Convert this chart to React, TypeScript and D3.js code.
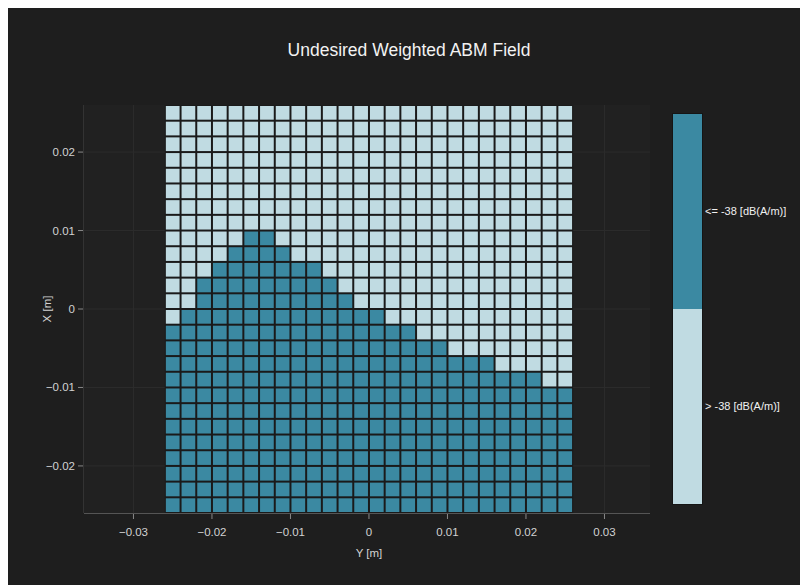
import React from "react";
import * as d3 from "d3";

// Grid cell centers (metres) along Y (horizontal) and X (vertical)
const yCenters = [
  -0.025, -0.023, -0.021, -0.019, -0.017, -0.015, -0.013, -0.011, -0.009, -0.007, -0.005, -0.003, -0.001,
  0.001, 0.003, 0.005, 0.007, 0.009, 0.011, 0.013, 0.015, 0.017, 0.019, 0.021, 0.023, 0.025,
];
const xCenters = [
  0.025, 0.023, 0.021, 0.019, 0.017, 0.015, 0.013, 0.011, 0.009, 0.007, 0.005, 0.003, 0.001,
  -0.001, -0.003, -0.005, -0.007, -0.009, -0.011, -0.013, -0.015, -0.017, -0.019, -0.021, -0.023, -0.025,
];
// For each Y column: highest X cell centre that is "<= -38 dB(A/m)" (all cells below are too)
const boundaryX = [
  -0.003, -0.001, 0.003, 0.005, 0.007, 0.009, 0.009, 0.007, 0.005, 0.005, 0.003, 0.001, -0.001,
  -0.001, -0.003, -0.003, -0.005, -0.005, -0.007, -0.007, -0.007, -0.009, -0.009, -0.009, -0.011, -0.011,
];
const categories = ["> -38 [dB(A/m)]", "<= -38 [dB(A/m)]"];
const categoryColors = ["#c0dbe2", "#3b89a2"];
const xTicks = [-0.03, -0.02, -0.01, 0, 0.01, 0.02, 0.03];
const yTicks = [-0.02, -0.01, 0, 0.01, 0.02];
const cellSize = 0.002;

const W = 792;
const H = 577;
const plot = { left: 76, right: 642, top: 97, bottom: 505 };
const cb = { left: 665, right: 694, top: 106, bottom: 496 };

const fmt = (v: number) => (v === 0 ? "0" : d3.format(".2f")(v).replace(/0$/, "").replace("-", "\u2212"));

export default function App() {
  const xs = d3.scaleLinear().domain([-0.0363, 0.0358]).range([plot.left, plot.right]);
  const ys = d3.scaleLinear().domain([-0.026, 0.026]).range([plot.bottom, plot.top]);
  const cbScale = d3.scaleBand<string>().domain([...categories].reverse()).range([cb.top, cb.bottom]);

  const cells: { y: number; x: number; c: number }[] = [];
  yCenters.forEach((yv, j) => {
    xCenters.forEach((xv) => {
      cells.push({ y: yv, x: xv, c: xv <= boundaryX[j] + 1e-9 ? 1 : 0 });
    });
  });

  const font = "'Liberation Sans', Arial, sans-serif";
  const gap = 1;

  return (
    <svg
      width={W}
      height={H}
      style={{ position: "absolute", left: 8, top: 8, display: "block" }}
      fontFamily={font}
    >
      <rect x={0} y={0} width={W} height={H} fill="#1e1e1e" />
      <rect
        x={plot.left}
        y={plot.top}
        width={plot.right - plot.left}
        height={plot.bottom - plot.top}
        fill="#212121"
      />
      {/* grid lines */}
      {xTicks.map((t) => (
        <line key={"gx" + t} x1={xs(t)} x2={xs(t)} y1={plot.top} y2={plot.bottom} stroke="#2c2c2c" strokeWidth={1} />
      ))}
      {yTicks.map((t) => (
        <line key={"gy" + t} x1={plot.left} x2={plot.right} y1={ys(t)} y2={ys(t)} stroke="#2c2c2c" strokeWidth={1} />
      ))}
      {/* heatmap background (gaps) */}
      <rect
        x={xs(-0.026)}
        y={ys(0.026)}
        width={xs(0.026) - xs(-0.026)}
        height={ys(-0.026) - ys(0.026)}
        fill="#1a1a1a"
      />
      {cells.map((d, i) => {
        const x0 = xs(d.y - cellSize / 2);
        const x1 = xs(d.y + cellSize / 2);
        const y0 = ys(d.x + cellSize / 2);
        const y1 = ys(d.x - cellSize / 2);
        return (
          <rect
            key={i}
            x={x0 + gap}
            y={y0 + gap}
            width={x1 - x0 - 2 * gap}
            height={y1 - y0 - 2 * gap}
            fill={categoryColors[d.c]}
          />
        );
      })}
      {/* axis lines */}
      <line x1={plot.left} x2={plot.right} y1={plot.bottom + 0.5} y2={plot.bottom + 0.5} stroke="#555" strokeWidth={1} />
      <line x1={plot.left - 0.5} x2={plot.left - 0.5} y1={plot.top} y2={plot.bottom} stroke="#333" strokeWidth={1} />
      {/* x ticks */}
      {xTicks.map((t) => (
        <g key={"xt" + t} transform={`translate(${xs(t)},${plot.bottom})`}>
          <line y1={1} y2={6} stroke="#888" />
          <text y={23} textAnchor="middle" fontSize={11.5} fill="#d2d2d2">
            {fmt(t)}
          </text>
        </g>
      ))}
      {/* y ticks */}
      {yTicks.map((t) => (
        <g key={"yt" + t} transform={`translate(${plot.left},${ys(t)})`}>
          <line x1={-6} x2={-1} stroke="#888" />
          <text x={-9} dy="0.35em" textAnchor="end" fontSize={11.5} fill="#d2d2d2">
            {fmt(t)}
          </text>
        </g>
      ))}
      {/* axis titles */}
      <text x={xs(0)} y={549} textAnchor="middle" fontSize={11.5} fill="#d2d2d2">
        Y [m]
      </text>
      <text
        transform={`translate(43,${ys(0)}) rotate(-90)`}
        textAnchor="middle"
        fontSize={11.5}
        fill="#d2d2d2"
      >
        X [m]
      </text>
      {/* title */}
      <text x={401} y={48} textAnchor="middle" fontSize={17.5} fill="#f2f2f2">
        Undesired Weighted ABM Field
      </text>
      {/* colorbar */}
      {categories.map((c, i) => (
        <g key={c}>
          <rect
            x={cb.left}
            y={cbScale(c)!}
            width={cb.right - cb.left}
            height={cbScale.bandwidth()}
            fill={categoryColors[i]}
          />
          <text
            x={cb.right + 3}
            y={cbScale(c)! + cbScale.bandwidth() / 2}
            dy="0.35em"
            fontSize={11}
            fill="#f0f0f0"
          >
            {c}
          </text>
        </g>
      ))}
      <rect
        x={cb.left - 0.5}
        y={cb.top - 0.5}
        width={cb.right - cb.left + 1}
        height={cb.bottom - cb.top + 1}
        fill="none"
        stroke="#151515"
        strokeWidth={1}
      />
    </svg>
  );
}
